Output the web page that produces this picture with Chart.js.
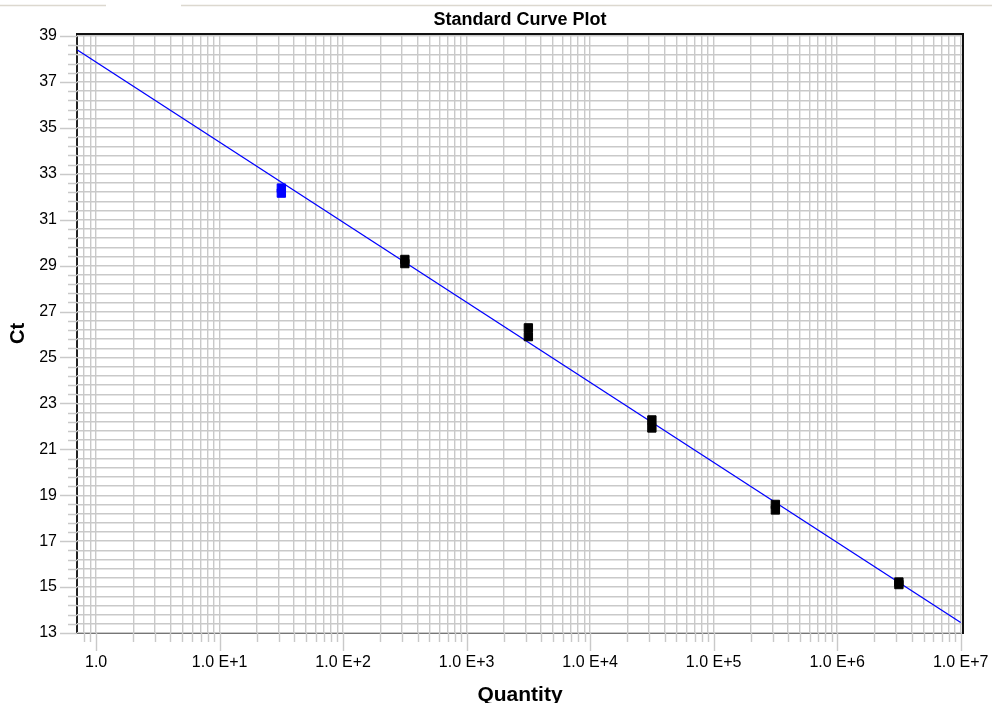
<!DOCTYPE html>
<html>
<head>
<meta charset="utf-8">
<title>Standard Curve Plot</title>
<script src="https://cdn.jsdelivr.net/npm/chart.js@4.4.1/dist/chart.umd.min.js"></script>
<style>
  html, body { margin: 0; padding: 0; background: #fff; }
</style>
</head>
<body>
<canvas id="curveChart" width="992" height="703"></canvas>
<script>
/* DATA */
const standardQty = [316, 316, 3160, 3160, 31600, 31600, 316000, 316000, 3160000, 3160000];
const standardCt = [29.27, 29.09, 26.29, 25.91, 22.28, 21.93, 18.6, 18.36, 15.22, 15.11];

const unknownQty = [31.6, 31.6];
const unknownCt = [32.38, 32.16];

// regression line, read at both ends of the plot
const fitQty = [0.705, 1e7];
const fitCt = [38.39, 13.46];

const xTickLabels = ["1.0", "1.0 E+1", "1.0 E+2", "1.0 E+3", "1.0 E+4", "1.0 E+5", "1.0 E+6", "1.0 E+7"];
const yTickLabels = [13, 15, 17, 19, 21, 23, 25, 27, 29, 31, 33, 35, 37, 39];

const xMin = 0.705, xMax = 1.044e7;
const yMin = 13, yMax = 39.09;
const gridColor = "#c9c9c9";
const fontFamily = "'Liberation Sans', Arial, sans-serif";

function toPoints(xs, ys) {
  return xs.map((x, i) => ({ x, y: ys[i] }));
}

function isDecade(v) {
  const l = Math.log10(v);
  return Math.abs(l - Math.round(l)) < 1e-9;
}

/* FRAME + TICK MARKS */
const frameAndTicks = {
  id: "frameAndTicks",
  beforeDraw(chart) {
    const { ctx, chartArea: a } = chart;
    ctx.save();
    // group box line at the very top
    ctx.strokeStyle = "#dcd8cf";
    ctx.lineWidth = 1.5;
    ctx.beginPath();
    ctx.moveTo(0, 5.5); ctx.lineTo(106, 5.5);
    ctx.moveTo(181, 5.5); ctx.lineTo(992, 5.5);
    ctx.stroke();
    // left + bottom frame, grid goes over it
    ctx.strokeStyle = "#222";
    ctx.lineWidth = 2;
    ctx.beginPath();
    ctx.moveTo(a.left, a.top);
    ctx.lineTo(a.left, a.bottom);
    ctx.lineTo(a.right, a.bottom);
    ctx.stroke();
    ctx.restore();
  },
  beforeDatasetsDraw(chart) {
    const { ctx, chartArea: a, scales: { x, y } } = chart;
    ctx.save();
    ctx.strokeStyle = gridColor;
    ctx.lineWidth = 1.4;
    ctx.beginPath();
    y.ticks.forEach(t => {
      const py = Math.round(y.getPixelForValue(t.value)) + 0.5;
      const len = yTickLabels.includes(t.value) ? 17 : 9;
      ctx.moveTo(a.left - len, py);
      ctx.lineTo(a.left, py);
    });
    x.ticks.forEach(t => {
      const px = Math.round(x.getPixelForValue(t.value)) + 0.5;
      const len = isDecade(t.value) ? 18 : 9;
      ctx.moveTo(px, a.bottom);
      ctx.lineTo(px, a.bottom + len);
    });
    ctx.stroke();
    // top + right frame
    ctx.strokeStyle = "#111";
    ctx.lineWidth = 2;
    ctx.beginPath();
    ctx.moveTo(a.left - 1, a.top);
    ctx.lineTo(a.right, a.top);
    ctx.lineTo(a.right, a.bottom + 1);
    ctx.stroke();
    ctx.restore();
  }
};

/* CHART */
new Chart(document.getElementById("curveChart"), {
  type: "scatter",
  data: {
    datasets: [
      {
        label: "Unknown",
        data: toPoints(unknownQty, unknownCt),
        pointStyle: "rect",
        pointRadius: 5.9,
        borderWidth: 1,
        backgroundColor: "#0000ff",
        borderColor: "#0000ff",
        order: 1
      },
      {
        label: "Standard",
        data: toPoints(standardQty, standardCt),
        pointStyle: "rect",
        pointRadius: 5.9,
        borderWidth: 1,
        backgroundColor: "#000",
        borderColor: "#000",
        order: 1
      },
      {
        label: "Fit",
        data: toPoints(fitQty, fitCt),
        showLine: true,
        pointRadius: 0,
        borderColor: "#0000ff",
        borderWidth: 1.3,
        order: 2
      }
    ]
  },
  options: {
    responsive: false,
    animation: false,
    layout: { padding: { top: 0, left: 0, right: 29, bottom: 0 } },
    plugins: {
      legend: { display: false },
      tooltip: { enabled: false },
      title: {
        display: true,
        text: "Standard Curve Plot",
        fullSize: false,
        color: "#000",
        font: { family: fontFamily, size: 18, weight: "bold" },
        padding: { top: 9, bottom: 3.4 }
      }
    },
    scales: {
      x: {
        type: "logarithmic",
        min: xMin,
        max: xMax,
        afterBuildTicks(scale) {
          const ticks = [];
          for (let k = -1; k <= 7; k++) {
            for (let m = 1; m <= 9; m++) {
              const v = m * Math.pow(10, k);
              if (v >= xMin && v <= xMax) ticks.push({ value: v });
            }
          }
          scale.ticks = ticks;
        },
        afterFit(scale) {
          scale.height = 70;
          scale.paddingLeft = 0;
          scale.paddingRight = 0;
        },
        grid: { color: gridColor, lineWidth: 1.4, drawTicks: false },
        border: { display: false },
        ticks: {
          autoSkip: false,
          maxRotation: 0,
          minRotation: 0,
          padding: 20,
          color: "#000",
          font: { family: fontFamily, size: 16 },
          callback(value) {
            if (!isDecade(value)) return "";
            return xTickLabels[Math.round(Math.log10(value))] || "";
          }
        },
        title: {
          display: true,
          text: "Quantity",
          color: "#000",
          font: { family: fontFamily, size: 21, weight: "bold", lineHeight: 0.8 },
          padding: { top: 0, bottom: -1 }
        }
      },
      y: {
        type: "linear",
        min: yMin,
        max: yMax,
        afterBuildTicks(scale) {
          const ticks = [];
          for (let i = 0; i <= 65; i++) {
            ticks.push({ value: Math.round((13 + i * 0.4) * 10) / 10 });
          }
          scale.ticks = ticks;
        },
        afterFit(scale) {
          scale.width = 77;
          scale.paddingTop = 0;
          scale.paddingBottom = 0;
        },
        grid: { color: gridColor, lineWidth: 1.4, drawTicks: false },
        border: { display: false },
        ticks: {
          autoSkip: false,
          padding: 20,
          color: "#000",
          font: { family: fontFamily, size: 16 },
          callback(value) {
            return yTickLabels.includes(value) ? String(value) : "";
          }
        },
        title: {
          display: true,
          text: "Ct",
          color: "#000",
          font: { family: fontFamily, size: 20, weight: "bold" },
          padding: { top: 6, bottom: 0 }
        }
      }
    }
  },
  plugins: [frameAndTicks]
});
</script>
</body>
</html>
